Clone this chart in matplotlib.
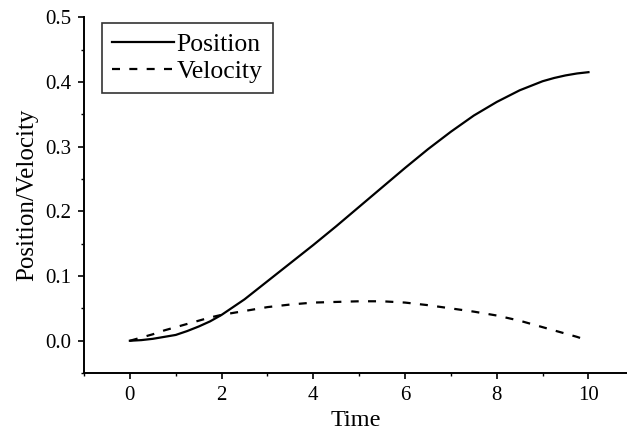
import matplotlib
matplotlib.use("Agg")
import matplotlib.pyplot as plt
from matplotlib.ticker import MultipleLocator

plt.rcParams['font.family'] = ['Liberation Serif', 'DejaVu Serif']

time = [0, 0.25, 0.5, 0.75, 1, 1.25, 1.5, 1.75, 2, 2.5, 3, 3.5, 4, 4.5, 5, 5.5, 6, 6.5, 7, 7.5,
        8, 8.5, 9, 9.25, 9.5, 9.75, 10]
position = [0.0, 0.001, 0.003, 0.006, 0.009, 0.015, 0.022, 0.030, 0.040, 0.064, 0.092, 0.120,
            0.148, 0.177, 0.207, 0.237, 0.267, 0.296, 0.323, 0.348, 0.369, 0.387, 0.401,
            0.406, 0.410, 0.413, 0.415]
velocity = [0.0, 0.005, 0.010, 0.016, 0.021, 0.026, 0.031, 0.036, 0.040, 0.046, 0.052, 0.056,
            0.059, 0.060, 0.061, 0.061, 0.059, 0.055, 0.050, 0.045, 0.039, 0.031, 0.021,
            0.016, 0.011, 0.006, 0.0]

fig = plt.figure(figsize=(6.27, 4.40), dpi=100)
ax = fig.add_axes([0.134, 0.152, 0.866, 0.809])

ax.plot(time, position, color='black', lw=1.6, label='Position')
ax.plot(time, velocity, color='black', lw=1.6, linestyle=(0, (3.6, 4.2)), label='Velocity')

ax.set_xlim(-1, 10.84)
ax.set_ylim(-0.05, 0.5)
ax.xaxis.set_major_locator(MultipleLocator(2))
ax.xaxis.set_minor_locator(MultipleLocator(1))
ax.yaxis.set_major_locator(MultipleLocator(0.1))
ax.yaxis.set_minor_locator(MultipleLocator(0.05))
ax.xaxis.set_major_formatter(matplotlib.ticker.FuncFormatter(lambda v, p: f"{v:.0f}"))
ax.yaxis.set_major_formatter(matplotlib.ticker.FuncFormatter(lambda v, p: f"{v:.1f}"))

for s in ['top', 'right']:
    ax.spines[s].set_visible(False)
for s in ['left', 'bottom']:
    ax.spines[s].set_linewidth(1.4)

ax.tick_params(axis='both', which='major', direction='out', length=4, width=1.2,
               labelsize=15, pad=5)
ax.tick_params(axis='both', which='minor', direction='out', length=2.5, width=1.0)

ax.set_xlabel('Time', fontsize=17.5, labelpad=4)
ax.set_ylabel('Position/Velocity', fontsize=18, labelpad=5)

leg = ax.legend(loc='upper left', bbox_to_anchor=(0.033, 0.983), fontsize=18.5,
                frameon=True, fancybox=False, edgecolor='black', handlelength=2.4,
                handletextpad=0.1, borderpad=0.4, labelspacing=0.12, borderaxespad=0)
leg.get_frame().set_linewidth(1.2)

fig.savefig('out.png', dpi=100)
